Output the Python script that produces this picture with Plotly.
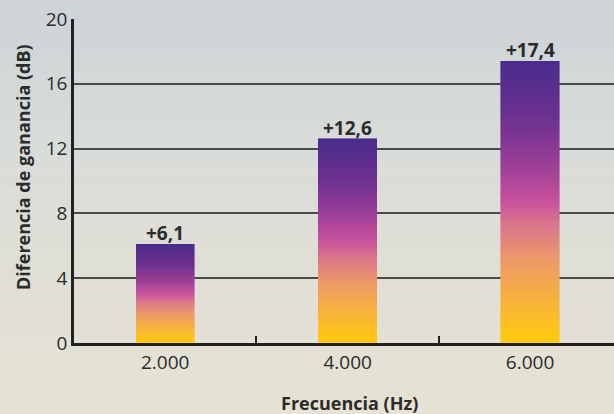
import plotly.graph_objects as go

# Chart data
frequencies = ["2.000", "4.000", "6.000"]
gain_diff = [6.1, 12.6, 17.4]
y_ticks = [0, 4, 8, 12, 16, 20]

FONT = "Open Sans"
TEXT = "#2b2b2b"

# Vertical colour ramp used inside every bar (bottom -> top)
bar_stops = [
    (0.00, (255, 203, 10)),
    (0.15, (248, 180, 60)),
    (0.30, (236, 152, 104)),
    (0.42, (218, 118, 140)),
    (0.50, (201, 82, 156)),
    (0.62, (160, 64, 152)),
    (0.78, (112, 50, 144)),
    (1.00, (74, 44, 140)),
]

# Background ramp (bottom -> top of the page)
bg_stops = [
    (0.00, (230, 226, 212)),
    (0.35, (224, 223, 214)),
    (0.65, (216, 220, 216)),
    (1.00, (205, 212, 216)),
]


def ramp(stops, t):
    for (t0, c0), (t1, c1) in zip(stops[:-1], stops[1:]):
        if t <= t1:
            f = (t - t0) / (t1 - t0) if t1 > t0 else 0
            return "rgb(%d,%d,%d)" % tuple(round(a + (b - a) * f) for a, b in zip(c0, c1))
    return "rgb(%d,%d,%d)" % stops[-1][1]


fig = go.Figure()

# Each bar is built from thin stacked slices so it carries a vertical gradient
N = 60
for k in range(N):
    col = ramp(bar_stops, (k + 0.5) / N)
    fig.add_trace(go.Bar(
        x=frequencies,
        y=[v / N for v in gain_diff],
        marker=dict(color=col, line=dict(color=col, width=0.6)),
        hoverinfo="skip",
        showlegend=False,
    ))

# Value labels on top of the bars (category index positions)
for i, v in enumerate(gain_diff):
    fig.add_annotation(
        x=i, y=v, xref="x", yref="y",
        text="+" + f"{v:.1f}".replace(".", ","),
        showarrow=False, yanchor="bottom", yshift=-4,
        font=dict(family=FONT, size=19, color=TEXT, weight="bold"),
    )

# Page background gradient drawn as horizontal strips in paper coordinates
L, T, B, H, W = 74, 19, 71, 414, 614
ph = H - T - B
pw = W - L
y_top = (H - B) / ph
y_bot = -B / ph
x_left = -L / pw
M = 80
for i in range(M):
    y0 = y_bot + (y_top - y_bot) * i / M
    y1 = y_bot + (y_top - y_bot) * (i + 1) / M + 0.002
    fig.add_shape(
        type="rect", xref="paper", yref="paper",
        x0=x_left - 0.01, x1=1.01, y0=y0, y1=y1,
        fillcolor=ramp(bg_stops, (i + 0.5) / M),
        line=dict(width=0), layer="below",
    )

# Axis titles placed as annotations
fig.add_annotation(
    xref="paper", yref="paper",
    x=(22.5 - L) / pw, y=((H - B) - 167.5) / ph,
    text="Diferencia de ganancia (dB)", textangle=-90,
    showarrow=False, xanchor="center", yanchor="middle",
    font=dict(family=FONT, size=18, color=TEXT, weight="bold"),
)
fig.add_annotation(
    xref="paper", yref="paper",
    x=(349 - L) / pw, y=((H - B) - 403) / ph,
    text="Frecuencia (Hz)",
    showarrow=False, xanchor="center", yanchor="middle",
    font=dict(family=FONT, size=18, color=TEXT, weight="bold"),
)

fig.update_layout(
    width=W, height=H,
    margin=dict(l=L, r=0, t=T, b=B),
    barmode="stack", bargap=0.68,
    paper_bgcolor="rgb(220,221,214)",
    plot_bgcolor="rgba(0,0,0,0)",
    font=dict(family=FONT, color=TEXT),
    xaxis=dict(
        type="category", range=[-0.5, 2.46],
        showline=True, linewidth=3, linecolor="#222",
        ticks="inside", tickson="boundaries", ticklen=7, tickwidth=2, tickcolor="#222",
        showgrid=False,
        tickfont=dict(family=FONT, size=19, color=TEXT),
    ),
    yaxis=dict(
        range=[0, 20], tickvals=y_ticks, ticktext=[str(t) for t in y_ticks],
        showline=True, linewidth=2.5, linecolor="#222",
        showgrid=True, gridcolor="#4a4a4a", gridwidth=1.5,
        zeroline=False, ticks="",
        tickfont=dict(family=FONT, size=19, color=TEXT),
    ),
)

fig.write_html("out.html")
